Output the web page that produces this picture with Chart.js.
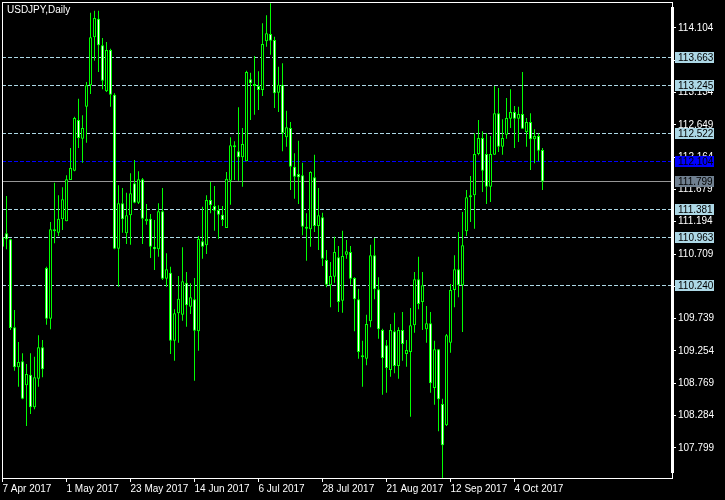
<!DOCTYPE html>
<html>
<head>
<meta charset="utf-8">
<script src="https://cdn.jsdelivr.net/npm/chart.js@4.4.1/dist/chart.umd.min.js"></script>
<style>
  html, body { margin: 0; padding: 0; background: #000; }
  canvas { display: block; }
</style>
</head>
<body>
<canvas id="chart" width="725" height="500"></canvas>
<script>
// USDJPY daily, 7 Apr 2017 .. 13 Oct 2017 (one entry per trading day)
const opens = [
    110.819, 111.020, 110.929, 109.608, 109.008, 109.098, 108.737, 108.897, 108.407, 108.837,
    109.308, 110.499, 109.738, 111.080, 111.030, 111.230, 111.200, 111.820, 111.960, 112.721,
    112.441, 112.921, 113.242, 113.962, 114.243, 113.842, 113.152, 113.772, 113.102, 110.789,
    111.470, 111.020, 111.290, 111.770, 111.480, 111.830, 111.200, 111.240, 110.819, 110.779,
    111.350, 110.339, 110.429, 109.408, 109.818, 109.798, 110.279, 109.918, 110.029, 109.548,
    110.899, 110.839, 111.520, 111.430, 111.370, 111.300, 111.100, 111.810, 112.321, 112.251,
    112.161, 112.101, 113.332, 113.242, 113.232, 113.172, 113.902, 114.012, 113.922, 113.132,
    113.252, 112.461, 112.601, 112.021, 111.910, 111.890, 111.110, 111.080, 111.860, 111.130,
    111.260, 110.619, 110.239, 110.369, 110.659, 110.008, 110.699, 110.739, 110.349, 110.029,
    109.178, 109.138, 109.698, 110.689, 110.179, 109.568, 109.338, 108.967, 109.548, 109.028,
    109.568, 109.208, 109.238, 109.638, 110.329, 109.988, 109.578, 109.668, 108.697, 109.278,
    108.457, 108.137, 109.378, 110.169, 110.479, 110.239, 111.050, 111.560, 111.590, 112.211,
    112.451, 112.211, 111.720, 112.201, 112.821, 112.321, 112.501, 112.741, 112.841, 112.741,
    112.811, 112.541, 112.691, 112.431, 112.481, 112.271
];
const highs = [
    111.020, 111.580, 110.939, 109.868, 109.388, 109.218, 109.058, 109.218, 109.168, 109.488,
    109.418, 110.519, 111.190, 111.780, 111.590, 111.710, 111.890, 112.301, 112.771, 113.042,
    112.791, 113.292, 114.333, 114.363, 114.363, 113.952, 113.892, 113.792, 113.122, 111.740,
    111.700, 111.630, 111.920, 112.121, 111.950, 111.850, 111.460, 111.310, 111.220, 111.470,
    111.700, 110.719, 110.519, 109.878, 110.379, 110.809, 110.439, 110.269, 110.349, 110.979,
    111.420, 111.590, 111.790, 111.730, 111.440, 111.430, 111.940, 112.461, 112.401, 112.911,
    112.601, 113.462, 113.432, 113.682, 113.452, 114.173, 114.293, 114.473, 113.972, 113.522,
    113.572, 112.861, 112.691, 112.221, 112.411, 112.081, 111.320, 111.950, 112.201, 111.700,
    111.330, 110.769, 110.589, 110.969, 110.829, 111.060, 110.919, 110.829, 110.359, 110.189,
    109.408, 109.798, 110.849, 110.949, 110.359, 109.588, 109.418, 109.658, 109.828, 109.608,
    109.838, 109.418, 109.898, 110.439, 110.669, 110.439, 109.928, 109.838, 109.408, 109.278,
    108.537, 109.508, 110.259, 110.689, 111.040, 111.340, 111.670, 111.880, 112.521, 112.721,
    112.551, 112.521, 112.481, 113.232, 113.202, 112.731, 113.052, 113.182, 112.931, 112.921,
    113.442, 112.751, 112.821, 112.581, 112.521, 112.301
];
const lows = [
    110.779, 110.779, 109.568, 108.957, 108.717, 108.527, 108.127, 108.307, 108.377, 108.717,
    108.857, 109.648, 109.578, 110.869, 110.979, 111.070, 111.200, 111.820, 111.950, 112.301,
    112.081, 112.381, 113.112, 113.612, 113.442, 113.182, 113.142, 112.921, 110.779, 110.219,
    111.030, 110.859, 110.849, 111.470, 111.460, 110.859, 111.150, 110.649, 110.469, 110.669,
    110.319, 110.219, 109.208, 109.108, 109.378, 109.708, 109.618, 109.808, 108.807, 109.258,
    110.639, 110.709, 111.320, 111.060, 110.939, 111.130, 111.100, 111.450, 111.820, 111.810,
    111.720, 112.101, 112.721, 112.801, 112.871, 113.082, 113.822, 113.702, 112.901, 112.841,
    112.251, 112.321, 111.670, 111.540, 111.460, 110.989, 110.609, 110.819, 111.040, 110.769,
    110.529, 110.209, 109.908, 110.279, 109.838, 109.828, 110.639, 110.249, 109.548, 109.138,
    108.717, 109.038, 109.608, 110.029, 109.438, 108.597, 108.627, 108.867, 108.917, 108.837,
    109.108, 109.018, 108.267, 109.528, 109.878, 109.568, 109.378, 108.627, 108.447, 108.047,
    107.331, 108.127, 109.228, 109.908, 110.059, 109.538, 110.979, 111.190, 111.090, 112.191,
    111.640, 111.460, 111.490, 112.201, 112.241, 112.201, 112.441, 112.601, 112.301, 112.391,
    112.591, 112.321, 111.970, 112.071, 112.101, 111.670
];
const closes = [
    110.959, 110.929, 109.598, 109.008, 109.088, 108.537, 108.907, 108.407, 108.857, 109.308,
    108.978, 109.738, 111.080, 111.050, 111.240, 111.530, 111.830, 112.000, 112.751, 112.451,
    112.601, 113.242, 113.962, 114.253, 113.842, 113.312, 113.772, 113.102, 110.789, 111.470,
    111.230, 111.290, 111.620, 111.480, 111.830, 111.240, 111.240, 110.819, 110.779, 111.350,
    110.339, 110.479, 109.408, 109.818, 110.039, 110.299, 109.938, 110.059, 109.558, 110.939,
    110.819, 111.520, 111.440, 111.360, 111.300, 111.220, 111.840, 112.341, 112.311, 112.161,
    112.361, 113.442, 113.272, 113.232, 113.172, 113.862, 114.023, 113.912, 113.122, 113.252,
    112.521, 112.611, 112.021, 111.870, 111.860, 111.120, 111.090, 111.940, 111.130, 111.290,
    110.639, 110.249, 110.379, 110.739, 109.988, 110.679, 110.749, 110.339, 110.029, 109.238,
    109.158, 109.658, 110.689, 110.179, 109.578, 109.148, 108.998, 109.568, 109.028, 109.568,
    109.358, 109.268, 109.638, 110.329, 109.958, 110.239, 109.668, 108.767, 109.278, 108.527,
    107.837, 109.488, 110.169, 110.479, 110.239, 110.839, 111.560, 111.590, 112.211, 112.451,
    111.960, 111.720, 112.211, 112.821, 112.321, 112.451, 112.751, 112.841, 112.741, 112.811,
    112.591, 112.691, 112.431, 112.481, 112.261, 111.799
];

// bottom axis: bar index of each date label
const tickIndex = [0, 16, 32, 48, 64, 80, 96, 112, 128];
const tickLabels = ['7 Apr 2017', '1 May 2017', '23 May 2017', '14 Jun 2017', '6 Jul 2017',
    '28 Jul 2017', '21 Aug 2017', '12 Sep 2017', '4 Oct 2017'];

// right axis price grid
const priceTicks = [107.799, 108.284, 108.769, 109.254, 109.739, 110.224, 110.709,
    111.194, 111.679, 112.164, 112.649, 113.134, 113.619, 114.104];

// horizontal lines drawn on the chart
const dashLevels = [113.663, 113.245, 112.522, 111.381, 110.963, 110.240];
const blueLevel = 112.104;
const bidLevel = 111.799;

const GREEN = '#00ff00';
const LIGHTBLUE = 'rgb(173,216,230)';
const FONT = '10px "Liberation Sans", Arial, sans-serif';

Chart.defaults.font.family = '"Liberation Sans", Arial, sans-serif';
Chart.defaults.font.size = 10;

const bodies = opens.map((o, i) => ({ x: i, y: [o, closes[i]] }));
const wicks = lows.map((l, i) => ({ x: i, y: [l, highs[i]] }));
const bodyFill = opens.map((o, i) => closes[i] < o ? '#ffffff' : '#000000');

const mt4Plugin = {
    id: 'mt4',
    beforeDraw(chart) {
        const ctx = chart.ctx;
        ctx.save();
        ctx.fillStyle = '#000';
        ctx.fillRect(0, 0, chart.width, chart.height);
        ctx.restore();
    },
    beforeDatasetsDraw(chart) {
        const ctx = chart.ctx;
        const y = chart.scales.y;
        const area = chart.chartArea;
        ctx.save();
        ctx.lineWidth = 1;

        // light blue dashed levels
        ctx.strokeStyle = LIGHTBLUE;
        ctx.setLineDash([4, 2]);
        dashLevels.forEach(v => {
            const py = Math.round(y.getPixelForValue(v)) + 0.5;
            ctx.beginPath();
            ctx.moveTo(area.left, py);
            ctx.lineTo(area.right, py);
            ctx.stroke();
        });

        // blue dashed level
        ctx.strokeStyle = '#0000ff';
        const by = Math.round(y.getPixelForValue(blueLevel)) + 0.5;
        ctx.beginPath();
        ctx.moveTo(area.left, by);
        ctx.lineTo(area.right, by);
        ctx.stroke();

        // bid line
        ctx.setLineDash([]);
        ctx.strokeStyle = 'rgb(150,150,150)';
        const gy = Math.round(y.getPixelForValue(bidLevel)) + 0.5;
        ctx.beginPath();
        ctx.moveTo(area.left, gy);
        ctx.lineTo(area.right, gy);
        ctx.stroke();
        ctx.restore();
    },
    afterDraw(chart) {
        const ctx = chart.ctx;
        const y = chart.scales.y;
        const area = chart.chartArea;
        ctx.save();

        // frame
        ctx.strokeStyle = '#fff';
        ctx.lineWidth = 1;
        ctx.strokeRect(area.left + 0.5, area.top + 0.5, area.right - area.left, area.bottom - area.top);
        // thick price axis line
        ctx.fillStyle = '#fff';
        ctx.fillRect(area.right - 1, area.top + 5, 3, area.bottom - area.top - 10);

        // price labels in boxes
        ctx.font = FONT;
        ctx.textBaseline = 'middle';
        ctx.textAlign = 'left';
        const box = (v, bg, fg) => {
            const py = Math.round(y.getPixelForValue(v));
            ctx.fillStyle = bg;
            ctx.fillRect(675, py - 5, 39, 11);
            ctx.fillStyle = fg;
            ctx.fillText(v.toFixed(3), 678, py + 1);
        };
        dashLevels.forEach(v => box(v, LIGHTBLUE, '#000'));
        box(blueLevel, '#0000ff', '#000');
        box(bidLevel, 'rgb(112,128,144)', '#000');

        // title
        ctx.fillStyle = '#fff';
        ctx.textBaseline = 'alphabetic';
        ctx.font = FONT;
        ctx.fillText('USDJPY,Daily', 7, 13);
        ctx.restore();
    }
};

const ctx = document.getElementById('chart').getContext('2d');
new Chart(ctx, {
    type: 'bar',
    data: {
        datasets: [{
            label: 'body',
            data: bodies,
            grouped: false,
            barThickness: 3,
            minBarLength: 2,
            backgroundColor: bodyFill,
            borderColor: GREEN,
            borderWidth: 1,
            borderSkipped: false,
            inflateAmount: 0
        }, {
            label: 'wick',
            data: wicks,
            grouped: false,
            barThickness: 1,
            minBarLength: 1,
            backgroundColor: GREEN,
            borderWidth: 0,
            inflateAmount: 0
        }]
    },
    options: {
        responsive: false,
        animation: false,
        devicePixelRatio: 1,
        layout: { padding: { left: 2, top: 2, right: 0, bottom: 0 } },
        plugins: {
            legend: { display: false },
            tooltip: { enabled: false }
        },
        scales: {
            x: {
                type: 'linear',
                bounds: 'data',
                offset: false,
                min: -0.125,
                max: 167.375,
                grid: { display: true, offset: false, drawOnChartArea: false, color: '#fff', tickLength: 4 },
                border: { display: false },
                ticks: {
                    color: '#fff',
                    align: 'start',
                    padding: 1,
                    autoSkip: false,
                    maxRotation: 0,
                    callback: (value, index) => tickLabels[index]
                },
                afterBuildTicks: scale => { scale.ticks = tickIndex.map(v => ({ value: v })); },
                afterFit: scale => {
                    scale.height = 22;
                    scale.paddingLeft = 0;
                    scale.paddingRight = 0;
                }
            },
            y: {
                position: 'right',
                bounds: 'data',
                min: 107.346,
                max: 114.493,
                grid: { display: true, drawOnChartArea: false, color: '#fff', tickLength: 4 },
                border: { display: false },
                ticks: {
                    color: '#fff',
                    padding: 2,
                    autoSkip: false,
                    callback: value => value.toFixed(3)
                },
                afterBuildTicks: scale => { scale.ticks = priceTicks.map(v => ({ value: v })); },
                afterFit: scale => {
                    scale.width = 53;
                    scale.paddingTop = 0;
                    scale.paddingBottom = 0;
                }
            }
        }
    },
    plugins: [mt4Plugin]
});
</script>
</body>
</html>
